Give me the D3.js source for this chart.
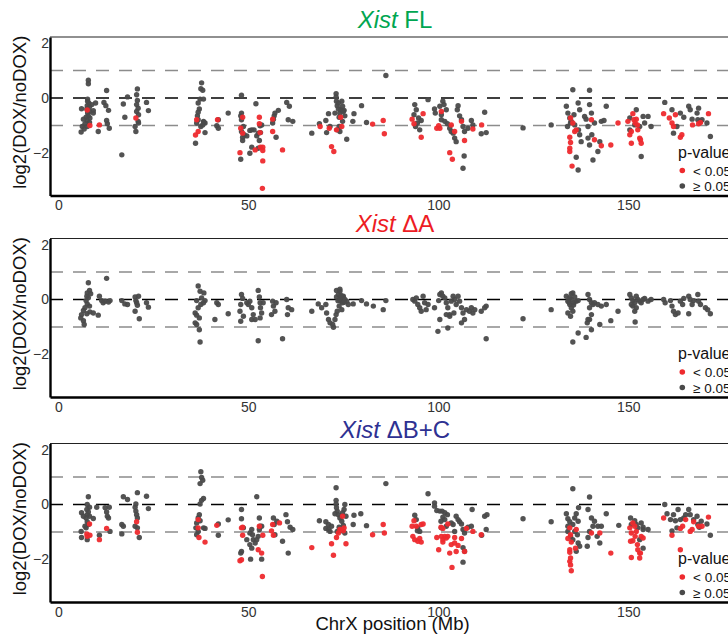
<!DOCTYPE html>
<html>
<head>
<meta charset="utf-8">
<script src="https://d3js.org/d3.v7.min.js"></script>
<style>
  body { margin: 0; background: #fff; }
  svg { font-family: "Liberation Sans", Arial, sans-serif; }
</style>
</head>
<body>
<div class="chart"></div>
<script>
// ---- data: [ChrX position (Mb), log2(DOX/noDOX)] ----
const xTicks = [0, 50, 100, 150];
const yTicks = [-2, 0, 2];
const refLines = [1, 0, -1];

const flGray = [
  [7.9,0.65],[7.9,0.52],[7.7,-0.04],[7.7,-0.12],[8.0,-0.18],[7.6,-0.28],[8.2,-0.33],[7.5,-0.40],[8.2,-0.49],[7.7,-0.55],
  [7.9,-0.65],[7.3,-0.70],[8.3,-0.73],[7.6,-0.82],[8.2,-0.89],[7.0,-0.94],[7.6,-1.04],[6.1,-0.39],[6.6,-0.77],[6.3,-1.04],
  [6.0,-1.24],[6.8,-1.13],[9.2,-0.46],[9.8,-0.18],[10.5,-1.22],[12.0,-0.16],[12.7,0.27],[12.5,-0.28],[13.2,-0.45],[12.7,-0.82],
  [13.4,-1.10],[12.9,-0.94],[8.8,-0.24],[9.2,-0.55],
  [16.7,-2.07],[17.1,-0.22],[17.5,-0.70],[18.2,0.04],[20.2,-1.04],[20.4,-1.22],[20.8,0.33],[20.6,0.12],[20.8,-0.09],[20.6,-0.24],
  [21.0,-0.37],[20.6,-0.49],[21.1,-0.61],[21.0,-0.85],[21.1,-0.91],[23.2,-0.16],[23.7,-0.46],
  [37.7,0.55],[37.5,0.34],[38.0,0.28],[37.3,-0.04],[38.2,-0.04],[36.8,-0.18],[37.1,-0.40],[36.8,-0.52],[36.6,-0.65],[36.8,-0.79],
  [36.4,-0.91],[38.2,-0.85],[38.6,-0.91],[37.5,-1.04],[38.6,-1.26],[36.1,-1.65],[41.7,-1.01],[42.1,-1.10],[42.1,-0.79],[38.3,-0.89],[38.0,-0.98],
  [44.7,-0.55],[48.2,0.10],[48.2,-0.55],[48.0,-0.65],[48.2,-0.79],[48.7,-1.04],[48.2,-1.22],[48.9,-1.34],[48.5,-1.43],[48.5,-1.55],
  [49.6,-1.38],[50.4,-1.18],[50.9,-1.16],[51.5,-1.16],[52.0,-0.21],[52.2,-1.38],[52.6,-1.28],[53.1,-1.01],[53.5,-0.98],[53.2,-1.26],
  [52.9,-1.55],[50.9,-1.79],[50.4,-2.01],[52.6,-1.83],[48.0,-2.23],[56.4,-0.91],[56.6,-0.77],[56.8,-0.65],[57.0,-0.55],[57.3,-1.43],
  [57.9,-0.45],[60.1,-0.16],[60.8,-0.30],[60.5,-0.79],[61.7,-0.85],
  [66.7,-1.28],[68.7,-0.94],[70.4,-0.82],[71.1,-0.57],[71.5,-1.04],[70.6,-1.26],[73.1,0.16],[73.1,0.04],[73.2,-0.12],[73.4,-0.28],
  [73.7,-0.40],[74.1,-0.55],[74.3,-0.43],[74.8,-0.30],[75.2,-0.45],[75.4,-0.65],[74.8,-0.85],[73.9,-1.04],[73.4,-1.16],[74.1,-1.22],
  [75.9,-1.50],[77.5,-0.85],[77.8,-0.57],[79.8,-0.28],[81.1,-0.89],[86.2,0.82],[73.7,-0.18],[74.6,-0.12],[75.0,-0.49],[72.8,-0.55],[73.9,-0.70],
  [93.8,-0.24],[94.2,-0.43],[93.6,-0.61],[94.8,-0.73],[94.5,-0.91],[94.0,-1.04],[95.1,-1.16],[95.5,-0.82],[97.3,-0.06],[99.0,-0.40],
  [99.2,-0.55],[100.4,-0.30],[101.2,-0.12],[101.5,-0.24],[102.1,-0.43],[100.8,-0.61],[100.8,-0.79],[101.7,-0.85],[102.4,-0.94],[103.0,-1.10],
  [103.4,-1.22],[103.9,-1.28],[104.3,-1.46],[104.7,-1.59],[105.2,-0.28],[105.0,-0.43],[105.6,-0.65],[106.1,-0.79],[106.5,-1.04],[106.9,-1.22],
  [107.8,-1.10],[108.7,-0.82],[109.1,-0.98],[106.8,-2.11],[106.5,-2.56],[112.2,-0.52],[112.6,-1.26],[111.3,-1.30],
  [122.3,-1.09],[129.7,-0.98],
  [135.4,0.30],[139.8,0.28],[133.7,-0.30],[134.1,-0.55],[134.6,-0.73],[135.0,-0.85],[134.0,-1.04],[135.7,-0.61],[136.8,-0.18],[137.2,-0.43],
  [136.9,-1.16],[137.2,-1.34],[137.6,-1.59],[136.3,-2.16],[136.8,-2.62],[138.5,-0.67],[138.9,-0.77],[139.4,-1.04],[139.8,-0.24],[140.3,-0.55],
  [140.4,-1.34],[139.4,-1.46],[139.8,-1.71],[140.7,-2.26],[142.0,-1.95],[142.5,-1.59],[142.9,-0.85],[143.6,-0.82],[144.2,-0.30],[141.1,-0.91],
  [134.8,-0.91],[135.9,-0.98],
  [150.4,-0.73],[151.7,-0.98],[152.1,-0.43],[153.0,-1.04],[153.9,-0.67],[153.4,-2.13],[155.2,-0.67],[156.0,-1.04],[150.4,-1.16],[154.3,-0.91],
  [159.6,-0.16],[161.5,-0.43],[161.9,-1.28],[163.7,-0.55],[162.8,-1.04],[164.6,-0.70],[165.9,-0.30],[166.3,-0.43],[166.8,-0.77],[168.1,-0.55],
  [168.5,-0.37],[169.0,-0.85],[170.7,-0.91],[171.6,-1.40],[168.3,-0.79],[169.4,-0.79]
];
const flRed = [
  [8.3,-1.0],[10.8,-0.98],[7.6,-0.44],[20.4,-0.73],[36.4,-0.79],[36.8,-1.22],[36.1,-1.35],[41.9,-0.79],
  [48.5,-0.70],[48.0,-1.10],[48.5,-1.28],[47.8,-1.99],[52.9,-0.70],[52.9,-0.94],[53.1,-1.26],[53.2,-1.79],[53.8,-1.79],[51.8,-1.89],
  [53.8,-1.91],[53.8,-2.29],[53.7,-3.29],[56.4,-0.77],[56.4,-1.22],[59.0,-1.89],
  [68.9,-1.04],[71.9,-1.77],[72.5,-1.95],[71.3,-1.10],[73.2,-1.16],[74.3,-0.70],[74.6,-1.04],[82.7,-0.95],[85.5,-0.82],[85.8,-1.30],
  [93.1,-0.77],[93.6,-0.94],[95.5,-1.43],[96.0,-0.57],[100.8,-0.49],[99.6,-1.10],[100.4,-1.10],[100.1,-1.01],[103.4,-0.98],[106.1,-0.85],
  [106.9,-1.55],[104.3,-1.22],[109.1,-1.13],[111.4,-0.98],[103.0,-1.99],[103.7,-2.23],
  [134.8,-0.73],[135.4,-0.91],[135.9,-1.22],[136.3,-1.16],[134.6,-1.43],[134.8,-1.62],[134.6,-1.83],[134.6,-1.95],[135.2,-2.48],
  [140.3,-0.79],[141.1,-1.52],[142.9,-1.74],[145.4,-1.71],[147.3,-0.91],
  [149.9,-0.85],[151.2,-0.57],[151.5,-0.79],[151.8,-0.91],[150.8,-1.22],[150.8,-1.65],[152.5,-1.16],[153.0,-1.46],[153.2,-1.52],[153.4,-1.65],
  [152.1,-0.77],[152.4,-0.98],[150.4,-1.34],
  [159.3,-0.57],[160.8,-0.73],[161.5,-0.91],[161.9,-1.04],[162.4,-0.61],[163.7,-1.43],[164.1,-1.34],[166.9,-0.98],[168.5,-0.94],[171.1,-0.57],[169.0,-0.89]
];

const dAGray = [
  [7.9,0.61],[8.2,0.33],[7.6,0.24],[7.5,0.12],[7.9,0.06],[7.3,-0.04],[7.6,-0.16],[8.2,-0.24],[7.0,-0.30],[6.6,-0.40],
  [6.1,-0.55],[5.9,-0.67],[6.6,-0.77],[6.8,-0.91],[7.5,-0.52],[8.3,-0.45],[9.2,-0.49],[10.5,-0.57],[10.8,0.12],[11.4,-0.04],
  [11.8,-0.12],[12.7,0.77],[12.3,-0.06],[13.2,-0.09],[13.6,-0.04],[8.5,0.21],
  [16.7,-0.04],[17.5,-0.16],[18.2,-0.18],[20.2,0.09],[20.4,-0.04],[20.6,-0.12],[20.8,-0.21],[20.2,-0.43],[21.3,-0.70],[23.2,-0.12],
  [23.7,-0.28],[21.1,0.12],
  [36.8,0.49],[37.3,0.30],[37.7,0.06],[38.3,0.24],[38.6,-0.04],[38.2,-0.12],[37.5,-0.18],[36.4,-0.04],[36.0,-0.49],[36.4,-0.57],
  [37.1,-0.67],[36.8,-0.30],[36.0,-0.85],[36.4,-0.91],[37.1,-1.10],[37.3,-1.55],[41.7,-0.12],[42.1,-0.18],[41.2,-0.73],[44.7,-0.52],
  [48.2,0.18],[48.5,0.04],[48.0,-0.18],[47.8,-0.43],[48.0,-0.79],[48.7,-0.61],[49.6,-0.12],[50.0,-0.18],[50.4,-0.06],[50.9,-0.30],
  [51.3,-0.55],[51.8,-0.73],[50.9,-0.73],[52.6,0.33],[52.9,0.09],[53.1,-0.12],[53.2,-0.30],[53.5,-0.49],[53.1,-0.67],[52.6,-1.50],
  [53.9,-0.12],[56.4,-0.06],[56.6,-0.24],[57.0,-0.43],[56.1,-0.55],[57.3,-0.12],[59.0,-1.43],[60.1,0.0],[60.5,-0.30],[60.3,-0.55],[61.4,-0.37],
  [66.7,-0.43],[68.4,-0.16],[69.3,-0.30],[70.4,-0.18],[70.6,-0.49],[71.1,-0.73],[71.5,-0.85],[72.2,-0.91],[72.8,-0.73],[72.4,-1.01],
  [73.1,-0.55],[73.2,0.09],[73.7,0.18],[74.1,0.30],[74.6,0.06],[75.0,0.12],[75.4,0.0],[74.8,-0.12],[74.3,-0.06],[73.9,-0.24],
  [74.6,-0.37],[73.4,-0.43],[75.9,-0.06],[76.3,-0.18],[77.6,-0.16],[79.8,-0.04],[81.1,-0.16],[82.9,-0.24],[85.5,-0.37],[86.2,-0.04],
  [73.2,0.33],[74.1,0.37],[74.0,0.0],[74.8,0.10],[75.2,-0.10],[73.6,-0.05],[74.4,0.15],
  [93.3,0.0],[93.8,-0.06],[94.2,0.06],[94.6,-0.18],[95.1,-0.30],[96.0,0.12],[95.5,-0.43],[96.4,-0.12],[96.8,-0.37],[99.0,-0.30],
  [100.1,-0.04],[100.4,0.18],[100.8,0.24],[101.2,0.12],[101.7,0.06],[102.1,-0.12],[102.5,-0.30],[103.0,-0.55],[103.4,-0.06],[103.9,0.12],
  [104.3,0.0],[104.7,-0.18],[105.2,0.12],[105.6,-0.06],[106.1,-0.30],[106.5,-0.49],[106.9,-0.73],[107.4,-0.37],[108.2,-0.43],[109.1,-0.49],
  [108.7,-0.30],[109.6,-0.37],[102.1,-0.55],[103.0,-0.61],[100.4,-0.73],[102.5,-1.04],[99.9,-1.16],[106.1,-0.85],[111.3,-0.43],[112.2,-0.30],
  [112.6,-0.24],[112.6,-1.43],[97.3,-0.18],[104.1,-0.49],
  [122.3,-0.70],[129.7,-0.37],
  [133.7,0.12],[134.1,-0.06],[134.6,0.06],[135.0,0.21],[135.4,0.24],[135.9,0.09],[134.6,-0.18],[135.0,-0.30],[135.7,-0.12],[136.3,-0.06],
  [135.4,-0.43],[134.1,-0.49],[134.8,-0.61],[136.8,-0.04],[139.4,0.18],[139.8,0.0],[140.3,-0.12],[140.7,-0.18],[139.8,-0.30],[141.1,-0.12],
  [142.0,-0.18],[142.9,-0.24],[144.2,-0.18],[140.3,-0.55],[139.4,-0.73],[139.2,-0.85],[140.3,-1.10],[139.8,-0.73],[142.5,-0.91],[138.9,-1.38],
  [136.8,-1.22],[135.4,-1.55],[145.4,-0.77],[147.3,-0.43],[135.0,0.0],[135.6,-0.20],[134.4,-0.10],
  [150.4,0.18],[150.8,0.06],[151.2,-0.04],[151.7,-0.12],[152.1,0.12],[152.5,0.0],[153.0,-0.06],[151.2,-0.24],[152.1,-0.30],[153.4,-0.12],
  [153.9,0.0],[150.8,-0.18],[151.8,-0.82],[151.7,-0.43],[154.3,0.04],[155.2,-0.06],
  [156.0,0.0],[159.3,0.0],[159.7,-0.12],[161.1,-0.04],[161.5,-0.24],[161.9,-0.43],[162.4,-0.55],[163.1,-0.49],[163.7,-0.06],[164.3,-0.18],
  [164.6,0.04],[165.9,0.12],[166.3,0.0],[166.8,-0.18],[165.9,-0.52],[167.2,-0.04],[168.3,0.18],[168.5,-0.06],[169.0,-0.18],[170.3,-0.30],
  [170.9,-0.37],[171.6,-0.52]
];
const dARed = [];

const bcGray = [
  [7.9,0.28],[7.6,0.0],[8.2,-0.10],[7.5,-0.18],[7.9,-0.27],[7.6,-0.37],[8.2,-0.43],[7.3,-0.49],[7.6,-0.63],[7.9,-0.73],
  [7.3,-0.85],[7.0,-0.79],[6.1,-0.30],[6.6,-0.43],[6.0,-0.98],[6.1,-1.20],[7.6,-1.28],[9.2,-0.51],[10.1,-0.10],[10.8,-1.12],
  [12.3,-0.12],[12.7,-0.27],[12.9,-0.43],[13.4,-0.10],[13.6,-0.98],[13.2,-0.49],
  [17.1,0.28],[18.2,0.18],[20.8,0.43],[23.2,0.30],[23.7,-0.15],[20.2,-0.10],[20.4,-0.24],[20.6,-0.37],[20.8,-0.49],[20.2,-0.79],
  [20.8,-0.85],[21.3,-1.20],[16.7,-0.73],[17.1,-0.79],[16.7,-1.07],[20.4,0.02],
  [37.5,1.19],[37.7,0.98],[38.0,0.88],[37.3,0.76],[38.2,0.22],[37.7,0.15],[37.3,0.02],[37.1,-0.37],[36.8,-0.49],[37.3,-0.59],
  [36.4,-0.67],[36.2,-0.85],[36.8,-0.98],[38.2,-0.85],[38.6,-0.87],[36.4,-1.10],[42.1,-1.12],[42.1,-0.71],
  [44.7,-0.56],[52.2,0.28],[48.2,-0.18],[48.2,-0.52],[48.7,-0.85],[50.4,-1.04],[50.9,-0.91],[51.1,-1.10],[51.3,-1.28],[51.8,-1.40],
  [52.2,-1.28],[52.6,-1.16],[52.9,-0.91],[53.1,-0.79],[50.4,-1.46],[49.6,-1.28],[48.2,-1.71],[48.0,-1.77],[50.9,-1.59],[50.6,-1.99],
  [53.5,-1.99],[53.5,-0.79],[52.9,-0.49],[56.6,-0.49],[56.8,-0.73],[57.0,-1.10],[57.5,-0.61],[59.0,-1.34],[59.9,-0.37],[60.3,-0.63],
  [61.0,-0.83],[61.7,-0.91],[60.5,-1.77],
  [68.7,-0.59],[70.4,-0.63],[71.1,-0.91],[71.1,-0.73],[71.5,-0.98],[72.8,-0.34],[73.1,0.15],[73.1,0.61],[73.1,0.02],[73.2,-0.12],
  [73.4,-0.24],[73.7,-0.37],[74.1,-0.49],[74.6,-0.61],[74.8,-0.30],[75.2,-0.18],[75.4,0.0],[75.7,-0.43],[75.0,-0.76],[73.9,-0.83],
  [73.4,-0.98],[74.6,-0.96],[75.4,-1.04],[77.6,-0.73],[77.8,-0.39],[79.6,-0.34],[81.1,-0.77],[86.2,0.76],[70.4,-0.87],[71.9,-0.79],
  [93.8,-0.39],[94.2,-0.55],[94.6,-0.85],[95.1,-0.98],[94.5,-0.96],[97.3,0.39],[99.0,0.06],[99.0,-0.06],[99.6,-0.22],[100.4,-0.24],
  [101.0,-0.24],[101.7,-0.30],[101.2,-0.46],[100.7,-0.61],[101.7,-0.55],[102.4,-0.37],[103.4,-0.67],[103.9,-0.73],[104.7,-0.43],[105.2,-0.55],
  [105.6,-0.63],[106.1,-0.71],[106.5,-0.91],[106.9,-1.04],[107.8,-0.83],[108.7,-0.79],[108.9,-0.18],[106.5,-1.57],[106.9,-1.70],[106.5,-2.10],
  [112.2,-0.43],[112.8,-0.37],[111.4,-1.12],[112.6,-0.91],[102.1,-0.79],[100.8,-0.85],[104.3,-0.98],
  [122.3,-0.52],[129.7,-0.63],
  [135.4,0.57],[139.8,0.27],[133.7,-0.34],[134.1,-0.52],[134.6,-0.63],[135.4,-0.73],[135.9,-0.49],[136.3,-0.34],[136.8,-0.61],[136.9,-0.12],
  [139.4,-0.18],[140.3,-0.49],[140.7,-0.79],[139.8,-0.98],[139.4,-1.20],[139.2,-1.52],[136.8,-1.40],[137.2,-1.52],[136.3,-1.70],[136.6,-1.10],
  [141.1,-0.61],[142.0,-0.79],[142.9,-0.79],[141.8,-1.16],[142.5,-1.40],[144.2,-0.34],[134.1,-0.79],[134.1,-0.98],[134.8,-1.16],[135.4,-1.28],[135.9,-0.98],
  [147.5,-0.76],[150.6,-0.49],[151.7,-0.59],[152.1,-0.73],[152.5,-0.85],[153.4,-0.67],[153.9,-0.91],[153.0,-1.28],[153.9,-1.59],[155.2,-0.91],
  [153.9,-0.83],[150.8,-0.73],
  [159.6,0.0],[160.2,-0.34],[161.1,-0.55],[161.9,-0.37],[162.4,-0.59],[162.8,-0.85],[163.7,-0.55],[164.6,-0.49],[165.1,-0.37],[165.9,-0.18],
  [166.3,-0.37],[167.2,-0.55],[168.1,-0.43],[168.3,-0.73],[168.7,-0.83],[169.2,-0.61],[170.7,-0.71],[171.6,-1.12],[161.5,-0.96],[163.1,-0.18]
];
const bcRed = [
  [8.2,-0.71],[7.5,-1.07],[7.6,-1.16],[8.3,-1.12],[10.8,-1.28],[12.7,-0.87],[20.6,-0.63],[20.8,-1.01],
  [36.8,-0.55],[36.8,-0.85],[37.0,-1.20],[38.6,-1.37],[41.7,-0.76],
  [48.2,-0.85],[48.5,-0.83],[48.5,-1.12],[47.8,-2.05],[48.2,-2.01],[52.9,-0.79],[53.8,-1.12],[52.6,-1.65],[53.5,-1.77],[53.7,-2.62],
  [56.4,-0.73],[56.1,-0.96],[56.6,-1.12],[58.2,-0.67],
  [66.7,-1.57],[71.9,-1.43],[72.4,-1.85],[73.2,-1.20],[73.7,-1.04],[74.1,-0.91],[74.8,-0.43],[75.0,-0.96],[75.7,-1.43],[75.2,-0.85],
  [82.7,-1.10],[85.5,-0.73],[85.8,-1.04],
  [93.1,-0.79],[93.6,-0.59],[94.2,-0.79],[95.5,-0.73],[96.0,-0.71],[93.3,-1.16],[93.8,-1.28],[94.6,-1.34],[95.5,-1.37],[95.1,-1.24],
  [99.6,-1.20],[100.7,-0.83],[101.2,-0.87],[100.8,-1.16],[101.2,-1.28],[101.7,-1.16],[102.1,-1.22],[102.5,-0.71],[102.5,-1.16],[101.2,-1.37],
  [100.1,-1.65],[103.0,-1.77],[103.4,-1.46],[104.3,-1.40],[104.7,-1.71],[105.2,-1.49],[106.1,-1.24],[106.9,-1.71],[107.4,-0.87],[109.1,-0.98],
  [111.3,-1.10],[103.6,-2.29],[104.3,-1.20],
  [134.6,-0.85],[134.8,-1.10],[134.1,-1.24],[135.0,-1.37],[134.6,-1.65],[134.6,-1.74],[134.8,-1.95],[134.6,-2.07],[134.8,-2.20],[135.0,-2.41],
  [136.1,-1.59],[136.3,-0.91],[140.3,-1.04],[142.5,-1.04],[145.4,-1.77],
  [150.4,-0.85],[150.8,-1.04],[151.2,-0.67],[151.7,-0.79],[152.1,-0.98],[151.8,-1.16],[151.2,-1.32],[150.6,-1.34],[152.4,-1.46],[152.5,-1.65],
  [153.0,-1.77],[153.4,-1.16],[153.9,-1.22],[150.8,-1.93],[153.0,-1.95],[153.2,-1.77],
  [159.3,-0.49],[161.5,-1.12],[163.7,-1.65],[164.3,-0.79],[165.1,-0.55],[166.3,-0.98],[166.8,-0.91],[167.2,-0.63],[168.5,-0.79],[169.4,-0.79],
  [171.1,-0.46],[163.7,-0.87]
];

const titles = [["Xist", " FL"], ["Xist", " \u0394A"], ["Xist", " \u0394B+C"]];
const titleColors = ["#00a651", "#ed1c24", "#2e3192"];
const legendLabels = ["< 0.05", "\u2265 0.05"];
const pointColors = ["#ee2a2e", "#4a4a4a"];

// ---- layout ----
const WIDTH = 728, HEIGHT = 640;
const LEFT = 50, RIGHT = 740;
const PANEL_H = 158.5;
const panelTops = [37, 238.5, 443.5];
const titleBaselines = [28, 232, 438];

const svg = d3.select(".chart").append("svg")
  .attr("width", WIDTH).attr("height", HEIGHT);

const X_SCALE = d3.scaleLinear().domain([-2.2, 179.4]).range([LEFT, RIGHT]);

const panels = [
  {gray: flGray, red: flRed},
  {gray: dAGray, red: dARed},
  {gray: bcGray, red: bcRed}
];

panels.forEach((p, i) => {
  const top = panelTops[i];
  const bottom = top + PANEL_H;
  const Y_SCALE = d3.scaleLinear().domain([-3.55, 2.22]).range([bottom, top]);
  const g = svg.append("g");

  // title
  const t = g.append("text")
    .attr("x", (LEFT + RIGHT) / 2)
    .attr("y", titleBaselines[i])
    .attr("text-anchor", "middle")
    .attr("font-size", "24px")
    .attr("fill", titleColors[i]);
  t.append("tspan").attr("font-style", "italic").text(titles[i][0]);
  t.append("tspan").text(titles[i][1]);

  // reference lines
  g.selectAll(".ref").data(refLines).enter().append("line")
    .attr("x1", LEFT).attr("x2", RIGHT)
    .attr("y1", d => Y_SCALE(d)).attr("y2", d => Y_SCALE(d))
    .attr("stroke", d => d === 0 ? "#000" : "#8c8c8c")
    .attr("stroke-width", d => d === 0 ? 1.6 : 1.4)
    .attr("stroke-dasharray", "13,10");

  // points
  g.selectAll(".pg").data(p.gray).enter().append("circle")
    .attr("cx", d => X_SCALE(d[0])).attr("cy", d => Y_SCALE(d[1]))
    .attr("r", 2.7).attr("fill", pointColors[1]).attr("fill-opacity", 0.95);
  g.selectAll(".pr").data(p.red).enter().append("circle")
    .attr("cx", d => X_SCALE(d[0])).attr("cy", d => Y_SCALE(d[1]))
    .attr("r", 2.7).attr("fill", pointColors[0]).attr("fill-opacity", 0.95);

  // top border
  g.append("line").attr("x1", LEFT).attr("x2", RIGHT)
    .attr("y1", top).attr("y2", top)
    .attr("stroke", "#222").attr("stroke-width", 1.2);

  // axes
  const xAxis = g.append("g")
    .attr("transform", "translate(0," + bottom + ")")
    .call(d3.axisBottom(X_SCALE).tickValues(xTicks).tickSize(0).tickPadding(5));
  xAxis.select(".domain").attr("stroke", "#000").attr("stroke-width", 2.4);
  xAxis.selectAll("text").attr("font-size", "14px").attr("fill", "#333")
    .attr("font-family", "Liberation Sans, Arial, sans-serif");

  const yAxis = g.append("g")
    .attr("transform", "translate(" + LEFT + ",0)")
    .call(d3.axisLeft(Y_SCALE).tickValues(yTicks).tickSize(0).tickPadding(1)
      .tickFormat(d => d < 0 ? "\u2212" + Math.abs(d) : d));
  yAxis.select(".domain").attr("stroke", "#000").attr("stroke-width", 2.4);
  yAxis.selectAll("text").attr("font-size", "14px").attr("fill", "#333")
    .attr("font-family", "Liberation Sans, Arial, sans-serif");

  // y label
  g.append("text")
    .attr("transform", "translate(26," + ((top + bottom) / 2 - 4) + ") rotate(-90)")
    .attr("text-anchor", "middle")
    .attr("font-size", "18.5px")
    .attr("fill", "#111")
    .text("log2(DOX/noDOX)");

  // legend
  const lg = g.append("g").attr("transform", "translate(678," + bottom + ")");
  lg.append("text").attr("x", 0).attr("y", -38)
    .attr("font-size", "16px").attr("fill", "#111").text("p-value");
  lg.selectAll("circle").data(legendLabels).enter().append("circle")
    .attr("cx", 4.3).attr("cy", (d, j) => j === 0 ? -25 : -9.5)
    .attr("r", 2.8).attr("fill", (d, j) => pointColors[j]);
  lg.selectAll(".lt").data(legendLabels).enter().append("text")
    .attr("x", 15).attr("y", (d, j) => (j === 0 ? -25 : -9.5) + 5)
    .attr("font-size", "13.5px").attr("fill", "#111").text(d => d);
});

// x label
svg.append("text")
  .attr("x", 392.5).attr("y", 630)
  .attr("text-anchor", "middle")
  .attr("font-size", "18.5px")
  .attr("fill", "#111")
  .text("ChrX position (Mb)");
</script>
</body>
</html>
